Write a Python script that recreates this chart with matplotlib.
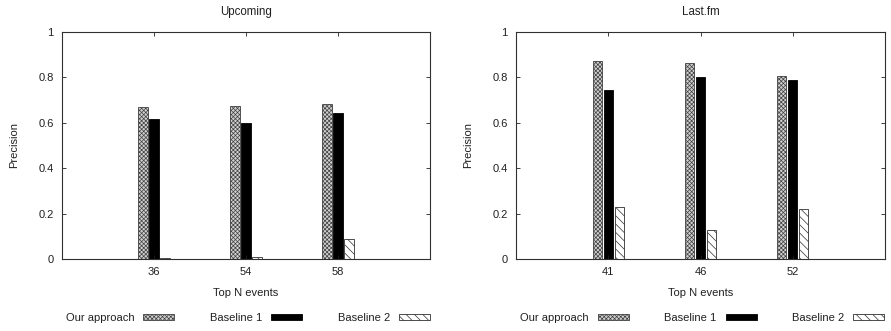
import numpy as np
import matplotlib
matplotlib.use("Agg")
import matplotlib.pyplot as plt

plt.rcParams['font.family'] = ['Liberation Sans', 'DejaVu Sans']
plt.rcParams['font.size'] = 8
plt.rcParams['hatch.linewidth'] = 0.5

# veriler
upcoming_n = ["36", "54", "58"]
upcoming_ours = [0.668, 0.676, 0.682]
upcoming_b1 = [0.615, 0.598, 0.642]
upcoming_b2 = [0.004, 0.009, 0.087]

lastfm_n = ["41", "46", "52"]
lastfm_ours = [0.874, 0.863, 0.806]
lastfm_b1 = [0.746, 0.802, 0.787]
lastfm_b2 = [0.229, 0.129, 0.220]

series_names = ["Our approach", "Baseline 1", "Baseline 2"]

fig = plt.figure(figsize=(8.91, 3.31), dpi=100)
ax1 = fig.add_axes([62 / 891, 1 - 259 / 331, 368 / 891, 227 / 331])
ax2 = fig.add_axes([516 / 891, 1 - 259 / 331, 369 / 891, 227 / 331])


def draw_panel(ax, title, labels, ours, b1, b2):
    x = np.arange(len(labels))
    w = 0.1
    ax.bar(x - 0.12, ours, w, color='#d0d0d0', edgecolor='#404040',
           hatch='xxxxxxxx', linewidth=0.6, label=series_names[0])
    ax.bar(x, b1, w, color='black', edgecolor='black', linewidth=0.6,
           label=series_names[1])
    ax.bar(x + 0.12, b2, w, color='white', edgecolor='#303030',
           hatch='\\\\\\\\', linewidth=0.6, label=series_names[2])
    ax.set_xlim(-1, 3)
    ax.set_ylim(0, 1)
    ax.set_xticks(x)
    ax.set_xticklabels(labels)
    ax.set_yticks([0, 0.2, 0.4, 0.6, 0.8, 1])
    ax.set_yticklabels(["0", "0.2", "0.4", "0.6", "0.8", "1"])
    ax.tick_params(direction='in', length=3, width=0.6, top=True, right=True,
                   colors='#202020', labelsize=8)
    ax.tick_params(axis='x', pad=6)
    ax.tick_params(axis='y', pad=6)
    for s in ax.spines.values():
        s.set_linewidth(0.8)
        s.set_color('#303030')
    ax.set_title(title, fontsize=8.3, pad=12, color='#202020')
    ax.set_xlabel("Top N events", fontsize=8, labelpad=8, color='#202020')
    ax.set_ylabel("Precision", fontsize=8, labelpad=14, color='#202020')
    ax.legend(loc='center', bbox_to_anchor=(0.505, -0.26), ncol=3,
              frameon=False, markerfirst=False, handlelength=2.8,
              handleheight=0.55, handletextpad=0.8, columnspacing=3.2,
              fontsize=8, labelcolor='#202020')


draw_panel(ax1, "Upcoming", upcoming_n, upcoming_ours, upcoming_b1, upcoming_b2)
draw_panel(ax2, "Last.fm", lastfm_n, lastfm_ours, lastfm_b1, lastfm_b2)

fig.savefig("out.png", dpi=100)
